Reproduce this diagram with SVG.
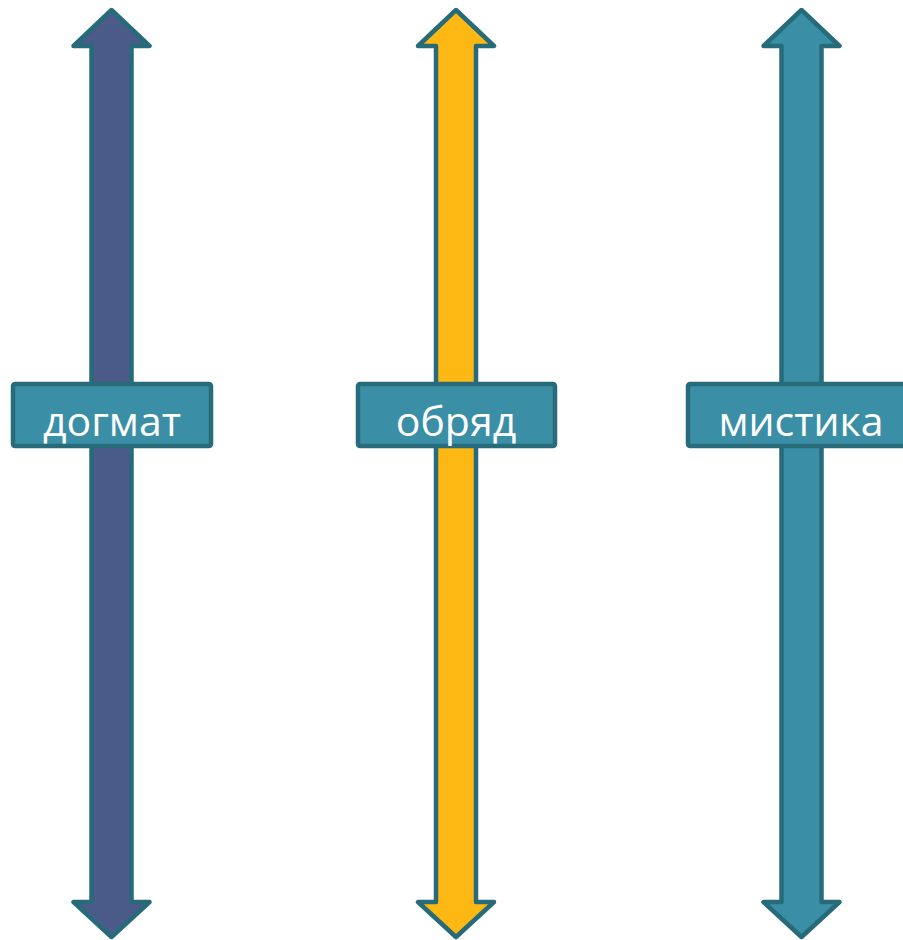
<svg xmlns="http://www.w3.org/2000/svg" width="903" height="940" viewBox="0 0 903 940">
<style>
.arr{stroke:#276b7b;stroke-width:4.5;stroke-linejoin:round}
.box{fill:#3a8fa6;stroke:#286b7b;stroke-width:4.5;stroke-linejoin:round}
.lbl{font-family:"Open Sans","DejaVu Sans",sans-serif;font-size:41px;fill:#ffffff;text-anchor:middle}
</style>
<rect width="903" height="940" fill="#ffffff"/>
<g id="connectors">
<path id="arrow-dogmat" class="arr" fill="#4a5b89" d="M111.5,10 L149.5,46 L131.5,46 L131.5,902 L149.5,902 L111.5,937 L73.5,902 L91.5,902 L91.5,46 L73.5,46 Z"/>
<path id="arrow-obryad" class="arr" fill="#fdb813" d="M456,10 L494,46 L476,46 L476,902 L494,902 L456,937 L418,902 L436,902 L436,46 L418,46 Z"/>
<path id="arrow-mistika" class="arr" fill="#3a8fa6" d="M801.5,10 L839.5,46 L821.5,46 L821.5,902 L839.5,902 L801.5,937 L763.5,902 L781.5,902 L781.5,46 L763.5,46 Z"/>
</g>
<g id="node-dogmat">
<rect class="box" x="13" y="384" width="198" height="62" rx="2"/>
<text class="lbl" x="112" y="436">догмат</text>
</g>
<g id="node-obryad">
<rect class="box" x="358" y="384" width="197" height="62" rx="2"/>
<text class="lbl" x="456" y="436">обряд</text>
</g>
<g id="node-mistika">
<rect class="box" x="688" y="384" width="230" height="62" rx="2"/>
<text class="lbl" x="801" y="436">мистика</text>
</g>
</svg>
